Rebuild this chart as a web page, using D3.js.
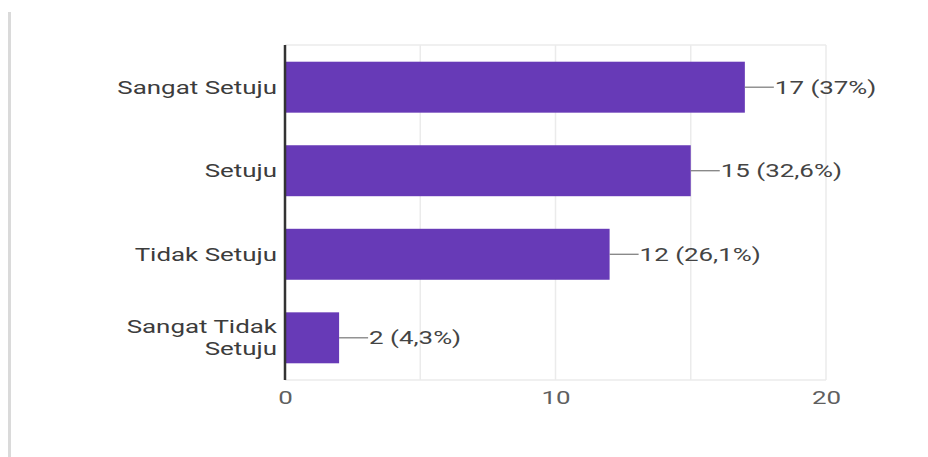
<!DOCTYPE html>
<html>
<head>
<meta charset="utf-8">
<script src="https://cdn.jsdelivr.net/npm/d3@7"></script>
<style>
  html, body { margin: 0; padding: 0; background: #fff; }
  svg { display: block; font-family: Roboto, "Noto Sans", Arial, sans-serif; }
</style>
</head>
<body>
<svg id="chart" width="928" height="457"></svg>
<script>
// Survey answers (response counts and shares)
const categories = [["Sangat Setuju"], ["Setuju"], ["Tidak Setuju"], ["Sangat Tidak", "Setuju"]];
const counts = [17, 15, 12, 2];
const percentLabels = ["37%", "32,6%", "26,1%", "4,3%"];
const gridTicks = [0, 5, 10, 15, 20];
const labelTicks = [0, 10, 20];

const svg = d3.select("#chart");
const W = 928, H = 457;
const margin = { left: 285, right: 102, top: 45, bottom: 77 };
const innerW = W - margin.left - margin.right;
const innerH = H - margin.top - margin.bottom;
const FS = 18;        // label font size
const SX = 1.44;      // horizontal stretch of the wide label face

// Left edge separator of the card
svg.append("rect").attr("x", 8).attr("y", 12).attr("width", 3).attr("height", H - 12)
  .attr("fill", "#dadada");

const g = svg.append("g").attr("transform", `translate(${margin.left},${margin.top})`);

const x = d3.scaleLinear().domain([0, 20]).range([0, innerW]);
const y = d3.scaleBand().domain(d3.range(counts.length)).range([0, innerH])
  .paddingInner(0.39).paddingOuter(0.2);

// Vertical grid lines
g.selectAll("line.grid").data(gridTicks).join("line")
  .attr("class", "grid")
  .attr("x1", d => x(d)).attr("x2", d => x(d))
  .attr("y1", 0).attr("y2", innerH)
  .attr("stroke", "#ebebeb").attr("stroke-width", 1.5);

// Top and bottom frame lines
[0, innerH].forEach(v => {
  g.append("line").attr("x1", 0).attr("x2", x(20)).attr("y1", v).attr("y2", v)
    .attr("stroke", "#ebebeb").attr("stroke-width", 1.5);
});

// Bars
g.selectAll("rect.bar").data(counts).join("rect")
  .attr("class", "bar")
  .attr("x", 0)
  .attr("y", (d, i) => y(i))
  .attr("width", d => x(d))
  .attr("height", y.bandwidth())
  .attr("fill", "#673ab7");

// Leader lines and value labels
const leader = 29;
g.selectAll("line.leader").data(counts).join("line")
  .attr("class", "leader")
  .attr("x1", d => x(d)).attr("x2", d => x(d) + leader)
  .attr("y1", (d, i) => y(i) + y.bandwidth() / 2)
  .attr("y2", (d, i) => y(i) + y.bandwidth() / 2)
  .attr("stroke", "#777").attr("stroke-width", 1.2);

g.selectAll("text.value").data(counts).join("text")
  .attr("class", "value")
  .attr("transform", (d, i) => `translate(${x(d) + leader + 1},${y(i) + y.bandwidth() / 2}) scale(${SX},1)`)
  .attr("dy", "0.36em")
  .attr("font-size", FS)
  .attr("fill", "#444")
  .text((d, i) => `${d} (${percentLabels[i]})`);

// Category labels
const cat = g.selectAll("text.cat").data(categories).join("text")
  .attr("class", "cat")
  .attr("text-anchor", "end")
  .attr("font-size", FS)
  .attr("fill", "#3c3c3c")
  .attr("transform", (d, i) => `translate(-8,${y(i) + y.bandwidth() / 2}) scale(${SX},1)`);
cat.each(function (lines) {
  const t = d3.select(this);
  const n = lines.length;
  lines.forEach((ln, k) => {
    t.append("tspan").attr("x", 0)
      .attr("y", (k - (n - 1) / 2) * 22)
      .attr("dy", "0.36em")
      .text(ln);
  });
});

// Y axis line
g.append("line").attr("x1", 0).attr("x2", 0).attr("y1", 0).attr("y2", innerH)
  .attr("stroke", "#333").attr("stroke-width", 2.5);

// X axis tick labels
const xAxis = d3.axisBottom(x).tickValues(labelTicks).tickSize(0).tickPadding(11)
  .tickFormat(d3.format("d"));
const ax = g.append("g").attr("transform", `translate(0,${innerH})`).call(xAxis);
ax.select(".domain").remove();
ax.selectAll(".tick text")
  .attr("font-size", FS).attr("fill", "#5f5f5f")
  .attr("font-family", "Roboto, 'Noto Sans', Arial, sans-serif")
  .attr("transform", `scale(${SX},1)`)
  .attr("x", 0);
</script>
</body>
</html>
